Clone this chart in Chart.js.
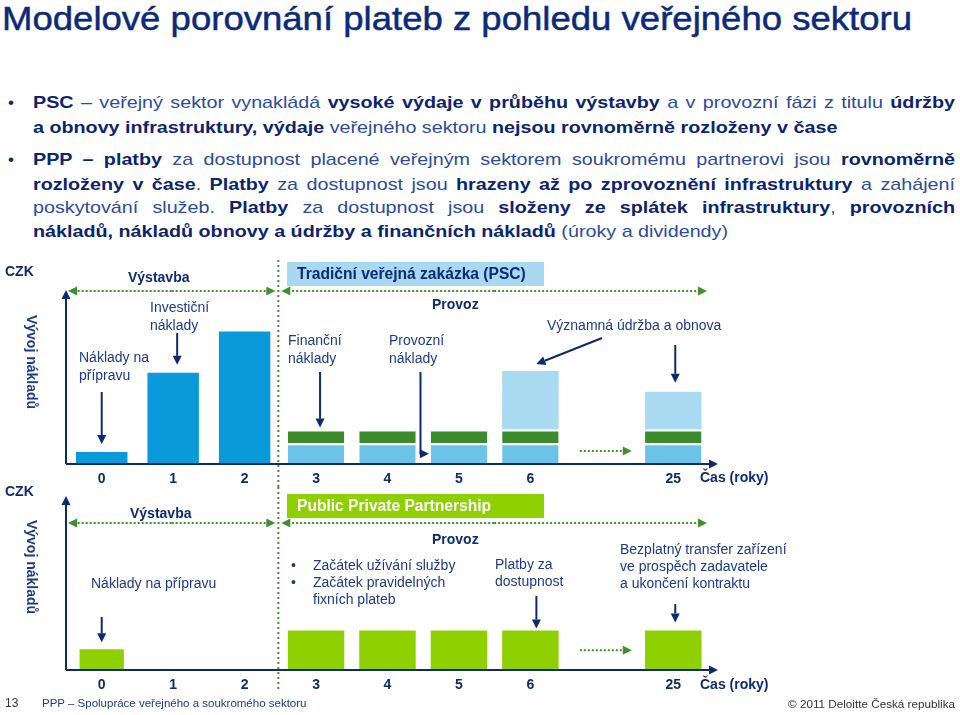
<!DOCTYPE html>
<html><head><meta charset="utf-8">
<script src="https://cdn.jsdelivr.net/npm/chart.js@4/dist/chart.umd.min.js"></script>
<style>
html,body{margin:0;padding:0}
body{width:960px;height:715px;position:relative;background:#fff;font-family:"Liberation Sans",Arial,sans-serif;overflow:hidden;color:#1b3a8c}
.a{position:absolute;white-space:nowrap;line-height:17px;font-size:14px;color:#1b3a8c}
.bd{font-weight:bold;color:#0d2a74}
#title{position:absolute;left:2px;top:-2px;font-size:34px;line-height:40px;color:#0b2a7a;white-space:nowrap;transform-origin:0 0;-webkit-text-stroke:0.5px #0b2a7a}
.ln{position:absolute;left:33px;width:922px;font-size:17px;line-height:22px;color:#2a4b9f;text-align:justify;text-align-last:justify;transform-origin:0 0}
.ln.last{text-align-last:left}
.ln b{color:#0b2470}
.bul{position:absolute;left:8px;font-size:17px;line-height:22px;color:#0b2470}
.vert{position:absolute;font-size:14px;font-weight:bold;color:#1b3a8c;white-space:nowrap;transform:translate(-50%,-50%) rotate(90deg)}
.box{position:absolute;left:287px;width:257px;height:24px;font-size:15.6px;font-weight:bold;line-height:24px;padding-left:10px;box-sizing:border-box}
canvas{position:absolute;left:0}
</style></head>
<body>
<div id="title">Modelové porovnání plateb z pohledu veřejného sektoru</div>

<div class="bul" style="top:92px">•</div>
<div class="ln" style="top:92px"><b>PSC</b> – veřejný sektor vynakládá <b>vysoké výdaje v průběhu výstavby</b> a v provozní fázi z titulu <b>údržby</b></div>
<div class="ln last" style="top:117px"><b>a obnovy infrastruktury, výdaje</b> veřejného sektoru <b>nejsou rovnoměrně rozloženy v čase</b></div>
<div class="bul" style="top:149px">•</div>
<div class="ln" style="top:149px"><b>PPP – platby</b> za dostupnost placené veřejným sektorem soukromému partnerovi jsou <b>rovnoměrně</b></div>
<div class="ln" style="top:174px"><b>rozloženy v čase</b>. <b>Platby</b> za dostupnost jsou <b>hrazeny až po zprovoznění infrastruktury</b> a zahájení</div>
<div class="ln" style="top:197px">poskytování služeb. <b>Platby</b> za dostupnost jsou <b>složeny ze splátek infrastruktury</b>, <b>provozních</b></div>
<div class="ln last" id="lastline" style="top:221px"><span id="probe"><b>nákladů, nákladů obnovy a údržby a finančních nákladů</b> (úroky a dividendy)</span></div>

<canvas id="c1" width="960" height="232" style="top:255px;width:960px;height:232px"></canvas>
<canvas id="c2" width="960" height="213" style="top:487px;width:960px;height:213px"></canvas>

<!-- top chart texts -->
<div class="a bd" style="left:5px;top:263px">CZK</div>
<div class="vert" style="left:32px;top:362px">Vývoj nákladů</div>
<div class="a bd" style="left:128px;top:269px">Výstavba</div>
<div class="box" style="top:262px;background:#a9d9f1;color:#0d2a74">Tradiční veřejná zakázka (PSC)</div>
<div class="a bd" style="left:432px;top:296px">Provoz</div>
<div class="a" style="left:150px;top:298px;line-height:18px">Investiční<br>náklady</div>
<div class="a" style="left:79px;top:348px;line-height:18px">Náklady na<br>přípravu</div>
<div class="a" style="left:288px;top:331px;line-height:18px">Finanční<br>náklady</div>
<div class="a" style="left:389px;top:331px;line-height:18px">Provozní<br>náklady</div>
<div class="a" style="left:547px;top:317px">Významná údržba a obnova</div>
<div class="a bd" style="left:700px;top:469px">Čas (roky)</div>

<!-- bottom chart texts -->
<div class="a bd" style="left:5px;top:483px">CZK</div>
<div class="vert" style="left:32px;top:567px">Vývoj nákladů</div>
<div class="a bd" style="left:130px;top:505px">Výstavba</div>
<div class="box" style="top:494px;background:#8fd000;color:#fff">Public Private Partnership</div>
<div class="a bd" style="left:432px;top:531px">Provoz</div>
<div class="a" style="left:91px;top:575px">Náklady na přípravu</div>
<div class="a" style="left:291px;top:557px">•</div>
<div class="a" style="left:291px;top:574px">•</div>
<div class="a" style="left:313px;top:557px">Začátek užívání služby</div>
<div class="a" style="left:313px;top:574px">Začátek pravidelných</div>
<div class="a" style="left:313px;top:591px">fixních plateb</div>
<div class="a" style="left:495px;top:556px;line-height:17px">Platby za<br>dostupnost</div>
<div class="a" style="left:620px;top:541px;line-height:17px">Bezplatný transfer zařízení<br>ve prospěch zadavatele<br>a ukončení kontraktu</div>
<div class="a bd" style="left:700px;top:676px">Čas (roky)</div>

<!-- footer -->
<div class="a" style="left:5px;top:695px;font-size:12px;color:#333">13</div>
<div class="a" style="left:42px;top:695px;font-size:11.5px;color:#1b3a8c">PPP – Spolupráce veřejného a soukromého sektoru</div>
<div class="a" style="right:5px;top:695px;font-size:11.7px;color:#333">© 2011 Deloitte Česká republika</div>

<script>
// ---- data ----
const years = ['0', '1', '2', '3', '4', '5', '6', '', '25'];
const pscConstruction = [7, 53, 77, null, null, null, null, null, null];
const pscOperating = [null, null, null, 12, 12, 12, 12, null, 12];
const pscFinancing = [null, null, null, 8, 8, 8, 8, null, 8];
const pscMaintenance = [null, null, null, null, null, null, 34, null, 22];
const pppPreparation = [12, null, null, null, null, null, null, null, null];
const pppAvailability = [null, null, null, 23, 23, 23, 23, null, 23];

// fit title width
(function(){
  const t = document.getElementById('title');
  const w = t.getBoundingClientRect().width;
  t.style.transform = 'scaleX(' + (910 / w) + ')';
  // horizontal scale of bullet text so that last line spans ~695px
  const pw = document.getElementById('probe').getBoundingClientRect().width;
  const s = 695 / pw;
  document.querySelectorAll('.ln').forEach(el => {
    el.style.width = (922 / s) + 'px';
    el.style.transform = 'scaleX(' + s + ')';
  });
})();

const NAVY = '#0d2a6e';
const GREEN = '#3f8f2c';

function arrow(ctx, x1, y1, x2, y2, color, dashed) {
  ctx.save();
  ctx.strokeStyle = color; ctx.fillStyle = color; ctx.lineWidth = 2;
  const ang = Math.atan2(y2 - y1, x2 - x1);
  const hl = 9, hw = 4.5;
  const bx = x2 - hl * Math.cos(ang), by = y2 - hl * Math.sin(ang);
  if (dashed) ctx.setLineDash([2, 2]);
  ctx.beginPath(); ctx.moveTo(x1, y1); ctx.lineTo(bx, by); ctx.stroke();
  ctx.setLineDash([]);
  ctx.beginPath();
  ctx.moveTo(x2, y2);
  ctx.lineTo(bx + hw * Math.sin(ang), by - hw * Math.cos(ang));
  ctx.lineTo(bx - hw * Math.sin(ang), by + hw * Math.cos(ang));
  ctx.closePath(); ctx.fill();
  ctx.restore();
}
function dblArrow(ctx, x1, x2, y, color) {
  const m = (x1 + x2) / 2;
  arrow(ctx, m, y, x1, y, color, true);
  arrow(ctx, m, y, x2, y, color, true);
}

function makeDecor(opts) {
  return {
    id: 'decor',
    afterDatasetsDraw(chart) {
      const ctx = chart.ctx, a = chart.chartArea;
      const xs = chart.scales.x, ys = chart.scales.y;
      const T = opts.top;
      const px = i => xs.getPixelForValue(i);
      const divX = (px(2) + px(3)) / 2 - 2;
      ctx.save();
      ctx.strokeStyle = '#4a8a3a'; ctx.lineWidth = 2; ctx.setLineDash([2, 3]);
      ctx.beginPath(); ctx.moveTo(divX, opts.divFrom - T); ctx.lineTo(divX, opts.divTo - T); ctx.stroke();
      ctx.restore();
      ctx.save();
      ctx.strokeStyle = NAVY; ctx.lineWidth = 2;
      ctx.beginPath(); ctx.moveTo(a.left, a.bottom); ctx.lineTo(a.right + 2, a.bottom); ctx.stroke();
      ctx.restore();
      arrow(ctx, a.left, a.bottom, a.left, a.top - 2, NAVY);
      arrow(ctx, a.right, a.bottom, 718, a.bottom, NAVY);
      const py = opts.phaseY - T;
      dblArrow(ctx, a.left + 2, divX - 3, py, GREEN);
      dblArrow(ctx, divX + 3, 707, py, GREEN);
      const gy = ys.getPixelForValue(opts.gapVal);
      arrow(ctx, px(7) - 22, gy, px(7) + 30, gy, GREEN, true);
      opts.extra(ctx, px, v => ys.getPixelForValue(v), T);
    }
  };
}

function baseOptions(pad) {
  return {
    responsive: false, animation: false, devicePixelRatio: 1,
    layout: { padding: pad },
    plugins: { legend: { display: false }, tooltip: { enabled: false } },
    scales: {
      x: {
        stacked: true,
        grid: { display: false, drawTicks: false },
        border: { display: false },
        ticks: { color: NAVY, font: { family: 'Liberation Sans', size: 14, weight: 'bold' }, padding: 7, maxRotation: 0, autoSkip: false },
        afterFit(s) { s.height = 23; }
      },
      y: { stacked: true, display: false, min: 0, max: 100 }
    }
  };
}

new Chart(document.getElementById('c1'), {
  type: 'bar',
  data: {
    labels: years,
    datasets: [
      { label: 'Investiční náklady', data: pscConstruction, backgroundColor: '#0a9ad9', borderWidth: 0, categoryPercentage: 1, barPercentage: 0.72 },
      { label: 'Provozní náklady', data: pscOperating, backgroundColor: '#6cc3e8', borderColor: '#fff', borderWidth: { top: 2 }, borderSkipped: 'start', categoryPercentage: 1, barPercentage: 0.79 },
      { label: 'Finanční náklady', data: pscFinancing, backgroundColor: '#3b8a2c', borderColor: '#fff', borderWidth: { top: 2 }, borderSkipped: 'start', categoryPercentage: 1, barPercentage: 0.79 },
      { label: 'Významná údržba a obnova', data: pscMaintenance, backgroundColor: '#a8dbf2', borderWidth: 0, categoryPercentage: 1, barPercentage: 0.79 }
    ]
  },
  options: baseOptions({ top: 37, left: 66, right: 251, bottom: 0 }),
  plugins: [makeDecor({
    top: 255, divFrom: 260, divTo: 487, phaseY: 291, gapVal: 7.5,
    extra(ctx, px, py, T) {
      arrow(ctx, px(0), 392 - T, px(0), py(7) - 8, NAVY);
      arrow(ctx, px(1) + 4, 333 - T, px(1) + 4, py(53) - 8, NAVY);
      arrow(ctx, px(3) + 4, 372 - T, px(3) + 4, py(20) - 2, NAVY);
      const ex = px(4) + 33, ey = py(6);
      ctx.save(); ctx.strokeStyle = NAVY; ctx.lineWidth = 2;
      ctx.beginPath(); ctx.moveTo(ex, 372 - T); ctx.lineTo(ex, ey); ctx.stroke(); ctx.restore();
      arrow(ctx, ex - 1, ey, px(5) - 30, ey, NAVY);
      arrow(ctx, 602, 338 - T, px(6) + 6, py(54) - 7, NAVY);
      arrow(ctx, px(8) + 2, 345 - T, px(8) + 2, py(42) - 9, NAVY);
    }
  })]
});

new Chart(document.getElementById('c2'), {
  type: 'bar',
  data: {
    labels: years,
    datasets: [
      { label: 'Náklady na přípravu', data: pppPreparation, backgroundColor: '#8fd000', borderWidth: 0, categoryPercentage: 1, barPercentage: 0.62 },
      { label: 'Platby za dostupnost', data: pppAvailability, backgroundColor: '#8fd000', borderWidth: 0, categoryPercentage: 1, barPercentage: 0.79 }
    ]
  },
  options: baseOptions({ top: 11, left: 66, right: 251, bottom: 7 }),
  plugins: [makeDecor({
    top: 487, divFrom: 487, divTo: 690, phaseY: 523, gapVal: 11.5,
    extra(ctx, px, py, T) {
      arrow(ctx, px(0), 617 - T, px(0), py(12) - 7, NAVY);
      arrow(ctx, px(6) + 6, 596 - T, px(6) + 6, py(23) - 2, NAVY);
      arrow(ctx, px(8) + 2, 604 - T, px(8) + 2, py(23) - 8, NAVY);
    }
  })]
});
</script>
</body></html>
